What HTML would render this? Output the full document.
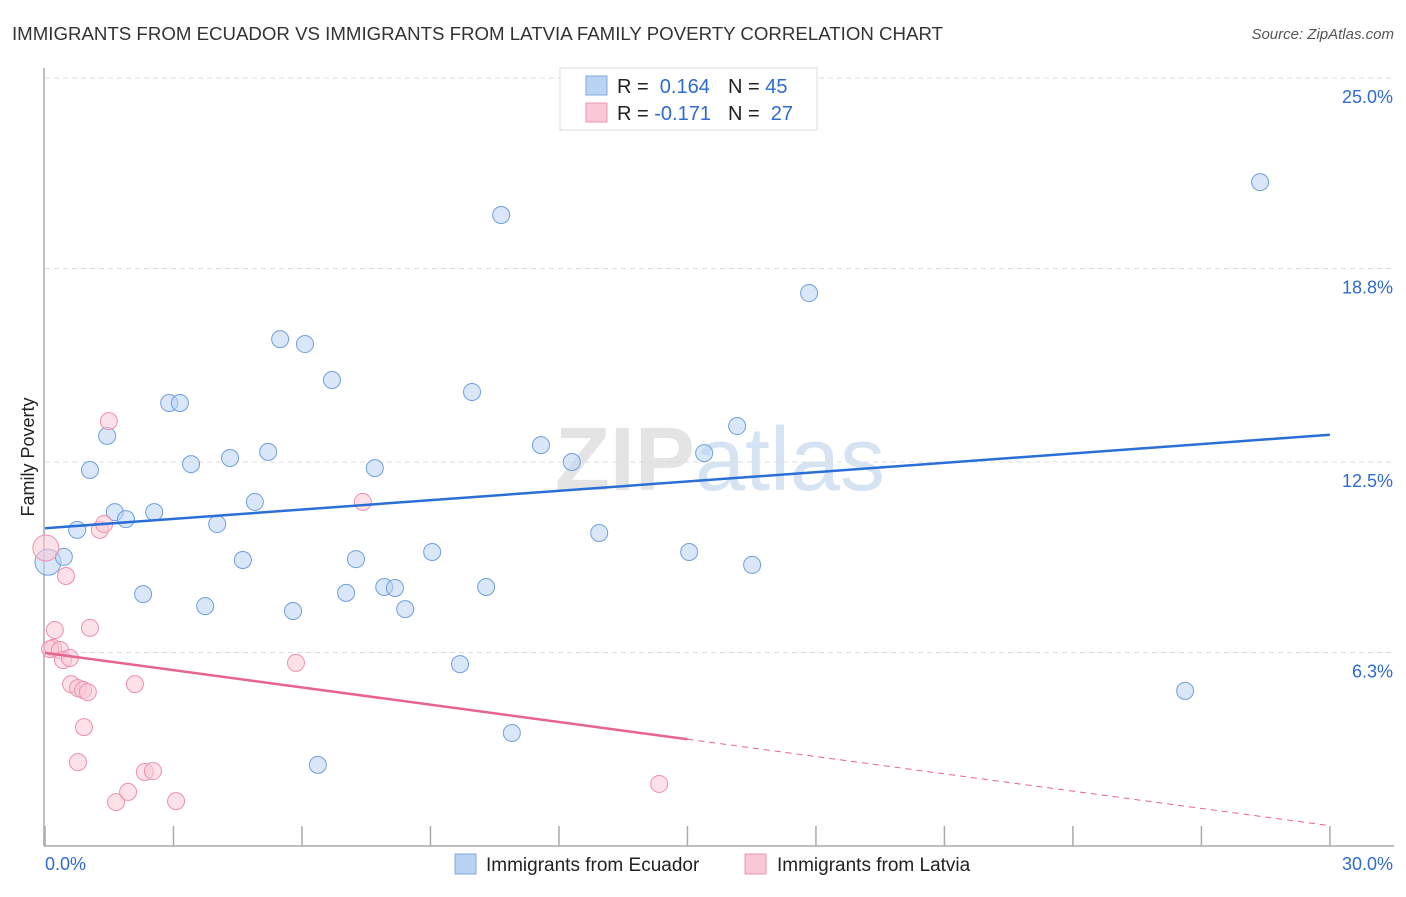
<!DOCTYPE html>
<html><head><meta charset="utf-8"><style>
body{margin:0;background:#fff;font-family:"Liberation Sans",sans-serif;}
svg text{font-family:"Liberation Sans",sans-serif;}
</style></head><body>
<svg id="chart" width="1406" height="892" xmlns="http://www.w3.org/2000/svg">
<text x="12" y="40" font-size="18" fill="#333" textLength="931" lengthAdjust="spacingAndGlyphs">IMMIGRANTS FROM ECUADOR VS IMMIGRANTS FROM LATVIA FAMILY POVERTY CORRELATION CHART</text>
<text x="1394" y="39" font-size="15" fill="#555" text-anchor="end" font-style="italic">Source: ZipAtlas.com</text>
<text x="720" y="490" font-size="90" fill="#e4e4e4" text-anchor="middle" font-family="Liberation Serif"><tspan font-weight="bold">ZIP</tspan><tspan fill="#d5e3f3" font-family="Liberation Sans">atlas</tspan></text>
<g id="grid"></g><g id="axes"></g><g id="marks"></g>
<text transform="translate(34,457) rotate(-90)" font-size="18" fill="#222" text-anchor="middle">Family Poverty</text>
<g>
<rect x="560" y="68" width="257" height="62" fill="#fff" stroke="#ddd"/>
<rect x="586" y="76" width="21" height="19" fill="#b9d3f3" stroke="#7fa8e0"/>
<rect x="586" y="103" width="21" height="19" fill="#f9c8d6" stroke="#ee94b0"/>
<text x="617" y="93" font-size="20" fill="#222">R = <tspan fill="#2f6bd1">&#160;0.164</tspan><tspan x="728">N = </tspan><tspan fill="#2f6bd1">45</tspan></text>
<text x="617" y="120" font-size="20" fill="#222">R = <tspan fill="#2f6bd1">-0.171</tspan><tspan x="728">N = </tspan><tspan fill="#2f6bd1">&#160;27</tspan></text>
</g>
<g>
<rect x="455" y="854" width="21" height="20" fill="#b9d3f3" stroke="#7fa8e0"/>
<text x="486" y="871" font-size="19" fill="#222">Immigrants from Ecuador</text>
<rect x="745" y="854" width="21" height="20" fill="#f9c8d6" stroke="#ee94b0"/>
<text x="777" y="871" font-size="19" fill="#222">Immigrants from Latvia</text>
</g>
</svg>
<script>
const yTicks=[25,18.8,12.5,6.3];
const yTickLabels=["25.0%","18.8%","12.5%","6.3%"];
const xTicks=[0,3,6,9,12,15,18,21,24,27,30];
const ecuadorX=[0.07,0.44,0.75,1.05,1.45,1.63,1.89,2.29,2.55,2.90,3.15,3.41,3.74,4.02,4.32,4.62,4.90,5.21,5.49,5.79,6.07,6.37,6.70,7.03,7.26,7.70,7.92,8.17,8.41,9.04,9.69,9.97,10.30,10.65,10.90,11.58,12.30,12.94,15.04,15.39,16.16,16.51,17.84,26.62,28.37];
const ecuadorY=[9.24,9.41,10.29,12.24,13.35,10.87,10.64,8.20,10.87,14.42,14.42,12.43,7.81,10.48,12.63,9.31,11.20,12.83,16.50,7.65,16.34,2.64,15.17,8.24,9.34,12.30,8.43,8.40,7.71,9.57,5.92,14.78,8.43,20.54,3.68,13.05,12.50,10.19,9.57,12.79,13.67,9.15,18.00,5.05,21.61];
const latviaX=[0.02,0.23,0.19,0.12,0.35,0.42,0.49,0.58,0.61,0.77,0.89,0.91,1.00,1.05,0.77,1.28,1.38,1.49,1.66,1.94,2.10,2.33,2.52,3.06,5.86,7.42,14.34];
const latviaY=[9.70,7.03,6.45,6.41,6.38,6.05,8.79,6.12,5.27,5.14,5.08,3.87,5.01,7.10,2.73,10.29,10.48,13.83,1.43,1.76,5.27,2.41,2.44,1.46,5.96,11.20,2.02];
const X=v=>45+v*42.83, Y=v=>846-v*30.72;
const NS="http://www.w3.org/2000/svg";
function mk(p,t,a){const e=document.createElementNS(NS,t);for(const k in a)e.setAttribute(k,a[k]);p.appendChild(e);return e;}
const grid=document.getElementById('grid'),axes=document.getElementById('axes'),marks=document.getElementById('marks');
yTicks.forEach((t,i)=>{
 const l=mk(grid,'line',{x1:45,x2:1394,y1:Y(t),y2:Y(t),stroke:'#ddd','stroke-dasharray':'5,4'});
 
 
 const tx=mk(axes,'text',{x:1393,y:Y(t)+25,'font-size':18,fill:'#2f6bd1','text-anchor':'end'});tx.textContent=yTickLabels[i];
 
 
});
mk(axes,'line',{x1:44,x2:44,y1:68,y2:846,stroke:'#aaa','stroke-width':1.5});
mk(axes,'line',{x1:44,x2:1394,y1:846,y2:846,stroke:'#aaa','stroke-width':1.5});
xTicks.forEach(t=>{const l=mk(axes,'line',{x1:X(t),x2:X(t),y1:826,y2:846,stroke:'#aaa','stroke-width':1.5});
 
 });
let t0=mk(axes,'text',{x:45,y:870,'font-size':18,fill:'#2f6bd1'});t0.textContent='0.0%';


let t1=mk(axes,'text',{x:1393,y:870,'font-size':18,fill:'#2f6bd1','text-anchor':'end'});t1.textContent='30.0%';


function draw(xs,ys,fill,stroke,name){xs.forEach((x,i)=>{const c=mk(marks,'circle',{cx:X(x),cy:Y(ys[i]),r:i==0?13:8.5,fill:fill,'fill-opacity':0.55,stroke:stroke,'stroke-width':1});
 
 });}
draw(ecuadorX,ecuadorY,'#b9d3f3','#6f9fe0','ecuador-point');
draw(latviaX,latviaY,'#f9c8d6','#ee8fae','latvia-point');
function fit(xs,ys){const n=xs.length;let mx=0,my=0;xs.forEach((x,i)=>{mx+=x;my+=ys[i];});mx/=n;my/=n;let sxy=0,sxx=0;xs.forEach((x,i)=>{sxy+=(x-mx)*(ys[i]-my);sxx+=(x-mx)**2;});const b=sxy/sxx;return [my-b*mx,b];}
const fe=fit(ecuadorX,ecuadorY);
let le=mk(marks,'line',{x1:X(0),y1:Y(fe[0]),x2:X(30),y2:Y(fe[0]+fe[1]*30),stroke:'#2a6fd6','stroke-width':2.5});


const fl=fit(latviaX,latviaY);
let ll=mk(marks,'line',{x1:X(0),y1:Y(fl[0]),x2:X(15),y2:Y(fl[0]+fl[1]*15),stroke:'#e8638f','stroke-width':2.5});


let ld=mk(marks,'line',{x1:X(15),y1:Y(fl[0]+fl[1]*15),x2:X(30),y2:Y(fl[0]+fl[1]*30),stroke:'#e8638f','stroke-width':1,'stroke-dasharray':'6,5'});


</script>
</body></html>
